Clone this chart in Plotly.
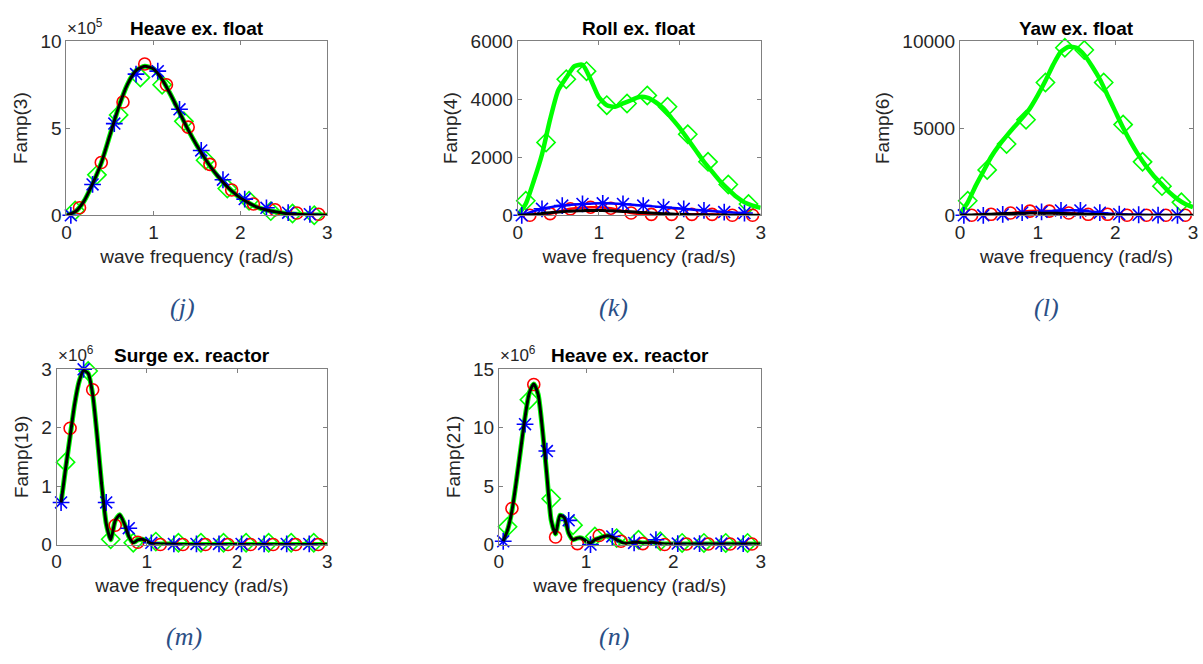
import plotly.graph_objects as go

W, H = 1203, 664

# ---------------- data ----------------
COARSE_X = [0.0, 0.1, 0.2, 0.3, 0.4, 0.5, 0.6, 0.7, 0.8, 0.9, 1.0, 1.1, 1.2, 1.3, 1.4, 1.5,
            1.6, 1.7, 1.8, 1.9, 2.0, 2.1, 2.2, 2.3, 2.4, 2.5, 2.6, 2.7, 2.8, 2.9, 3.0]
FINE_X = [0.00, 0.05, 0.10, 0.15, 0.20, 0.25, 0.30, 0.35, 0.40, 0.45, 0.50, 0.55, 0.60, 0.65,
          0.70, 0.75, 0.80, 0.85, 0.90, 0.95, 1.00, 1.05, 1.10, 1.15, 1.20, 1.25, 1.30, 1.35,
          1.40, 1.45, 1.50, 1.55, 1.60, 1.65, 1.70, 1.75, 1.80, 1.85, 1.90, 1.95, 2.00, 2.05,
          2.10, 2.15, 2.20, 2.25, 2.30, 2.35, 2.40, 2.45, 2.50, 2.55, 2.60, 2.65, 2.70, 2.75,
          2.80, 2.85, 2.90, 2.95, 3.00]
GREEN_MX = [0.10, 0.35, 0.60, 0.85, 1.10, 1.35, 1.60, 1.85, 2.10, 2.35, 2.60, 2.85]
RED_MX = [0.15, 0.40, 0.65, 0.90, 1.15, 1.40, 1.65, 1.90, 2.15, 2.40, 2.65, 2.90]
BLUE_MX = [0.05, 0.30, 0.55, 0.80, 1.05, 1.30, 1.55, 1.80, 2.05, 2.30, 2.55, 2.80]

# (j) Heave ex. float  (x1e5)
heave_float_black = [0.00, 0.20, 0.80, 1.80, 3.00, 4.60, 6.20, 7.50, 8.30, 8.55, 8.40, 7.80, 6.90,
                     5.90, 4.90, 4.00, 3.20, 2.50, 1.90, 1.40, 1.00, 0.70, 0.45, 0.30, 0.20, 0.12,
                     0.07, 0.04, 0.02, 0.01, 0.00]
heave_float_green = [0.28, 2.32, 5.76, 7.90, 7.49, 5.39, 3.16, 1.54, 0.84, 0.24, 0.10, 0.00]
heave_float_red = [0.43, 3.03, 6.50, 8.68, 7.49, 5.06, 2.92, 1.45, 0.65, 0.32, 0.13, 0.06]
heave_float_blue = [0.00, 1.77, 5.26, 8.10, 8.27, 6.08, 3.72, 2.04, 0.93, 0.43, 0.15, 0.06]

# (k) Roll ex. float
roll_float_green_line = [0, 400, 1200, 2100, 3300, 4300, 4740, 5130, 5180, 4680, 4070, 3790, 3735,
                         3850, 3960, 4070, 4050, 3900, 3680, 3345, 3010, 2620, 2230, 1840, 1505,
                         1170, 890, 635, 445, 335, 256]
roll_float_black = [0, 10, 30, 60, 90, 115, 135, 150, 160, 165, 165, 160, 150, 135, 120, 100, 85,
                    70, 55, 45, 35, 25, 20, 15, 10, 8, 5, 4, 3, 2, 1]
roll_float_green = [502, 2509, 4683, 4962, 3791, 3847, 4126, 3735, 2788, 1840, 1059, 390]
roll_float_red = [0, 56, 223, 279, 245, 78, 33, 33, 33, 33, 0, 0]
roll_float_blue = [0, 223, 335, 390, 413, 390, 335, 279, 223, 167, 111, 78]

# (l) Yaw ex. float
yaw_float_green_line = [93, 744, 1673, 2510, 3346, 3997, 4554, 5075, 5577, 6135, 6878, 7715, 8644,
                        9388, 9667, 9611, 9202, 8551, 7808, 6878, 5949, 5019, 4183, 3439, 2789,
                        2231, 1766, 1301, 930, 651, 465]
yaw_float_black = [0, 10, 25, 45, 65, 85, 100, 110, 120, 125, 125, 120, 115, 105, 95, 80, 70, 55,
                   45, 35, 25, 20, 15, 10, 8, 5, 4, 3, 2, 1, 0]
yaw_float_green = [836, 2602, 4089, 5483, 7621, 9610, 9480, 7621, 5205, 3067, 1673, 744]
yaw_float_red = [0, 56, 130, 242, 242, 130, 56, 56, 0, 0, 0, 0]
yaw_float_blue = [0, 0, 50, 150, 200, 280, 280, 150, 60, 30, 10, 0]

# (m) Surge ex. reactor (x1e6)
surge_reactor_black = [None, 0.72, 1.30, 1.85, 2.40, 2.79, 2.98, 2.93, 2.57, 1.85, 1.02, 0.36,
                       0.08, 0.41, 0.51, 0.36, 0.14, 0.03, 0.08, 0.09, 0.06, 0.02, 0.01, 0.01,
                       0.01, 0.01, 0.01, 0.00, 0.00, 0.00, 0.00, 0.00, 0.00, 0.00, 0.00, 0.00,
                       0.00, 0.00, 0.00, 0.00, 0.00, 0.00, 0.00, 0.00, 0.00, 0.00, 0.00, 0.00,
                       0.00, 0.00, 0.00, 0.00, 0.00, 0.00, 0.00, 0.00, 0.00, 0.00, 0.00, 0.00,
                       0.00]
surge_reactor_green = [1.41, 2.97, 0.09, 0.03, 0.05, 0.03, 0.03, 0.03, 0.03, 0.03, 0.03, 0.03]
surge_reactor_red = [1.99, 2.65, 0.33, 0.04, 0.00, 0.00, 0.00, 0.00, 0.00, 0.00, 0.00, 0.00]
surge_reactor_blue = [0.72, 3.00, 0.72, 0.28, 0.03, 0.01, 0.01, 0.01, 0.01, 0.01, 0.01, 0.01]

# (n) Heave ex. reactor (x1e6)
heave_reactor_black = [None, 0.28, 1.24, 2.90, 5.40, 8.15, 10.90, 13.00, 13.75, 12.85, 9.80, 5.94,
                       2.07, 0.90, 2.50, 2.30, 0.97, 0.41, 0.55, 0.55, 0.28, 0.14, 0.41, 0.55,
                       0.69, 0.75, 0.63, 0.41, 0.22, 0.08, 0.14, 0.19, 0.19, 0.14, 0.14, 0.19,
                       0.14, 0.08, 0.05, 0.05, 0.05, 0.05, 0.05, 0.05, 0.05, 0.05, 0.05, 0.05,
                       0.05, 0.05, 0.05, 0.05, 0.05, 0.05, 0.05, 0.05, 0.05, 0.05, 0.05, 0.05,
                       0.05]
heave_reactor_green = [1.52, 12.4, 3.92, 1.66, 0.69, 0.55, 0.41, 0.28, 0.14, 0.14, 0.14, 0.14]
heave_reactor_red = [3.09, 13.7, 0.64, 0.08, 0.77, 0.28, 0.08, 0.00, 0.05, 0.05, 0.05, 0.05]
heave_reactor_blue = [0.28, 10.3, 8.0, 2.07, 0.00, 0.69, 0.14, 0.41, 0.08, 0.08, 0.08, 0.08]

TITLES = ["Heave ex. float", "Roll ex. float", "Yaw ex. float",
          "Surge ex. reactor", "Heave ex. reactor"]
YLABELS = ["Famp(3)", "Famp(4)", "Famp(6)", "Famp(19)", "Famp(21)"]
CAPTIONS = ["(j)", "(k)", "(l)", "(m)", "(n)"]
X_TICKS = [0, 1, 2, 3]
Y_TICKS = [[0, 5, 10], [0, 2000, 4000, 6000], [0, 5000, 10000], [0, 1, 2, 3], [0, 5, 10, 15]]
EXPONENTS = ["5", None, None, "6", "6"]

# ---------------- layout geometry (pixels) ----------------
BOXES = [  # left, right, top, bottom
    (62, 325, 32, 212),
    (517, 762, 32, 212),
    (963, 1198, 32, 212),
    (52, 325, 371, 552),
    (498, 762, 371, 552),
]
TITLE_BOTTOM = [32, 32, 32, 370, 370]
CAPTION_POS = [(179, 307), (614, 307), (1050, 307), (180, 647), (614, 647)]

GREEN = "#00FF00"
RED = "#FF0000"
BLUE = "#0000FF"
BLACK = "#000000"
AXC = "#808080"
TXT = "#262626"
FONT = "Liberation Sans, Arial, sans-serif"
FS = 19

fig = go.Figure()


def ax_names(i):
    n = "" if i == 0 else str(i + 1)
    return "x" + n, "y" + n, "xaxis" + n, "yaxis" + n


def add_markers(i, xs, ys, color, symbol, size):
    xa, ya, _, _ = ax_names(i)
    fig.add_trace(go.Scatter(x=xs, y=ys, mode="markers", xaxis=xa, yaxis=ya,
                             cliponaxis=False, showlegend=False, hoverinfo="skip",
                             marker=dict(symbol=symbol, size=size, color=color,
                                         line=dict(color=color, width=1.6))))


def add_line(i, xs, ys, color, width):
    xa, ya, _, _ = ax_names(i)
    fig.add_trace(go.Scatter(x=xs, y=ys, mode="lines", xaxis=xa, yaxis=ya,
                             showlegend=False, hoverinfo="skip",
                             line=dict(color=color, width=width, shape="spline", smoothing=0.6)))


panel_data = [
    dict(bx=COARSE_X, black=heave_float_black, gline=None,
         g=heave_float_green, r=heave_float_red, b=heave_float_blue, sep=False),
    dict(bx=COARSE_X, black=roll_float_black, gline=roll_float_green_line,
         g=roll_float_green, r=roll_float_red, b=roll_float_blue, sep=True),
    dict(bx=COARSE_X, black=yaw_float_black, gline=yaw_float_green_line,
         g=yaw_float_green, r=yaw_float_red, b=yaw_float_blue, sep=True),
    dict(bx=FINE_X, black=surge_reactor_black, gline=None,
         g=surge_reactor_green, r=surge_reactor_red, b=surge_reactor_blue, sep=False),
    dict(bx=FINE_X, black=heave_reactor_black, gline=None,
         g=heave_reactor_green, r=heave_reactor_red, b=heave_reactor_blue, sep=False),
]

for i, p in enumerate(panel_data):
    if p["sep"]:
        add_line(i, COARSE_X, p["gline"], GREEN, 4.5)
    else:
        add_line(i, p["bx"], p["black"], GREEN, 5)
    add_markers(i, GREEN_MX, p["g"], GREEN, "diamond-open", 14)
    if p["sep"]:
        add_line(i, RED_MX, p["r"], RED, 2.5)
    add_markers(i, RED_MX, p["r"], RED, "circle-open", 12)
    if p["sep"]:
        add_line(i, BLUE_MX, p["b"], BLUE, 2.5)
    add_markers(i, BLUE_MX, p["b"], BLUE, "asterisk-open", 14)
    add_line(i, p["bx"], p["black"], BLACK, 3)

layout = dict(width=W, height=H, margin=dict(l=0, r=0, t=0, b=0),
              paper_bgcolor="white", plot_bgcolor="white", showlegend=False)
annotations = []
for i, (l, r, t, b) in enumerate(BOXES):
    xa, ya, xk, yk = ax_names(i)
    common = dict(showline=True, mirror="ticks", linecolor=AXC, linewidth=1,
                  ticks="inside", ticklen=4, tickcolor=AXC, showgrid=False, zeroline=False,
                  tickfont=dict(family=FONT, size=FS, color=TXT), fixedrange=True)
    layout[xk] = dict(common, domain=[l / W, r / W], range=[0, 3], tickvals=X_TICKS,
                      ticktext=[str(v) for v in X_TICKS], anchor=ya,
                      title=dict(text="wave frequency (rad/s)", standoff=7,
                                 font=dict(family=FONT, size=FS, color=TXT)))
    yt = Y_TICKS[i]
    layout[yk] = dict(common, domain=[1 - b / H, 1 - t / H], range=[yt[0], yt[-1]],
                      tickvals=yt, ticktext=[str(v) for v in yt], anchor=xa,
                      title=dict(text=YLABELS[i], standoff=7,
                                 font=dict(family=FONT, size=FS, color=TXT)))
    tb = TITLE_BOTTOM[i]
    annotations.append(dict(text="<b>" + TITLES[i] + "</b>", x=(l + r) / 2 / W,
                            y=1 - tb / H, xref="paper", yref="paper",
                            xanchor="center", yanchor="bottom", showarrow=False,
                            font=dict(family=FONT, size=FS, color="black")))
    if EXPONENTS[i]:
        annotations.append(dict(text="\u00d710<sup>" + EXPONENTS[i] + "</sup>",
                                x=(l - 1) / W, y=1 - (tb - 1) / H, xref="paper", yref="paper",
                                xanchor="left", yanchor="bottom", showarrow=False,
                                font=dict(family=FONT, size=17, color=TXT)))
    cx, cy = CAPTION_POS[i]
    annotations.append(dict(text="<i>" + CAPTIONS[i] + "</i>", x=cx / W, y=1 - cy / H,
                            xref="paper", yref="paper", xanchor="center", yanchor="middle",
                            showarrow=False,
                            font=dict(family="Liberation Serif, serif", size=26,
                                      color="#2B4F86")))
layout["annotations"] = annotations
fig.update_layout(**layout)

fig.write_html("out.html")
